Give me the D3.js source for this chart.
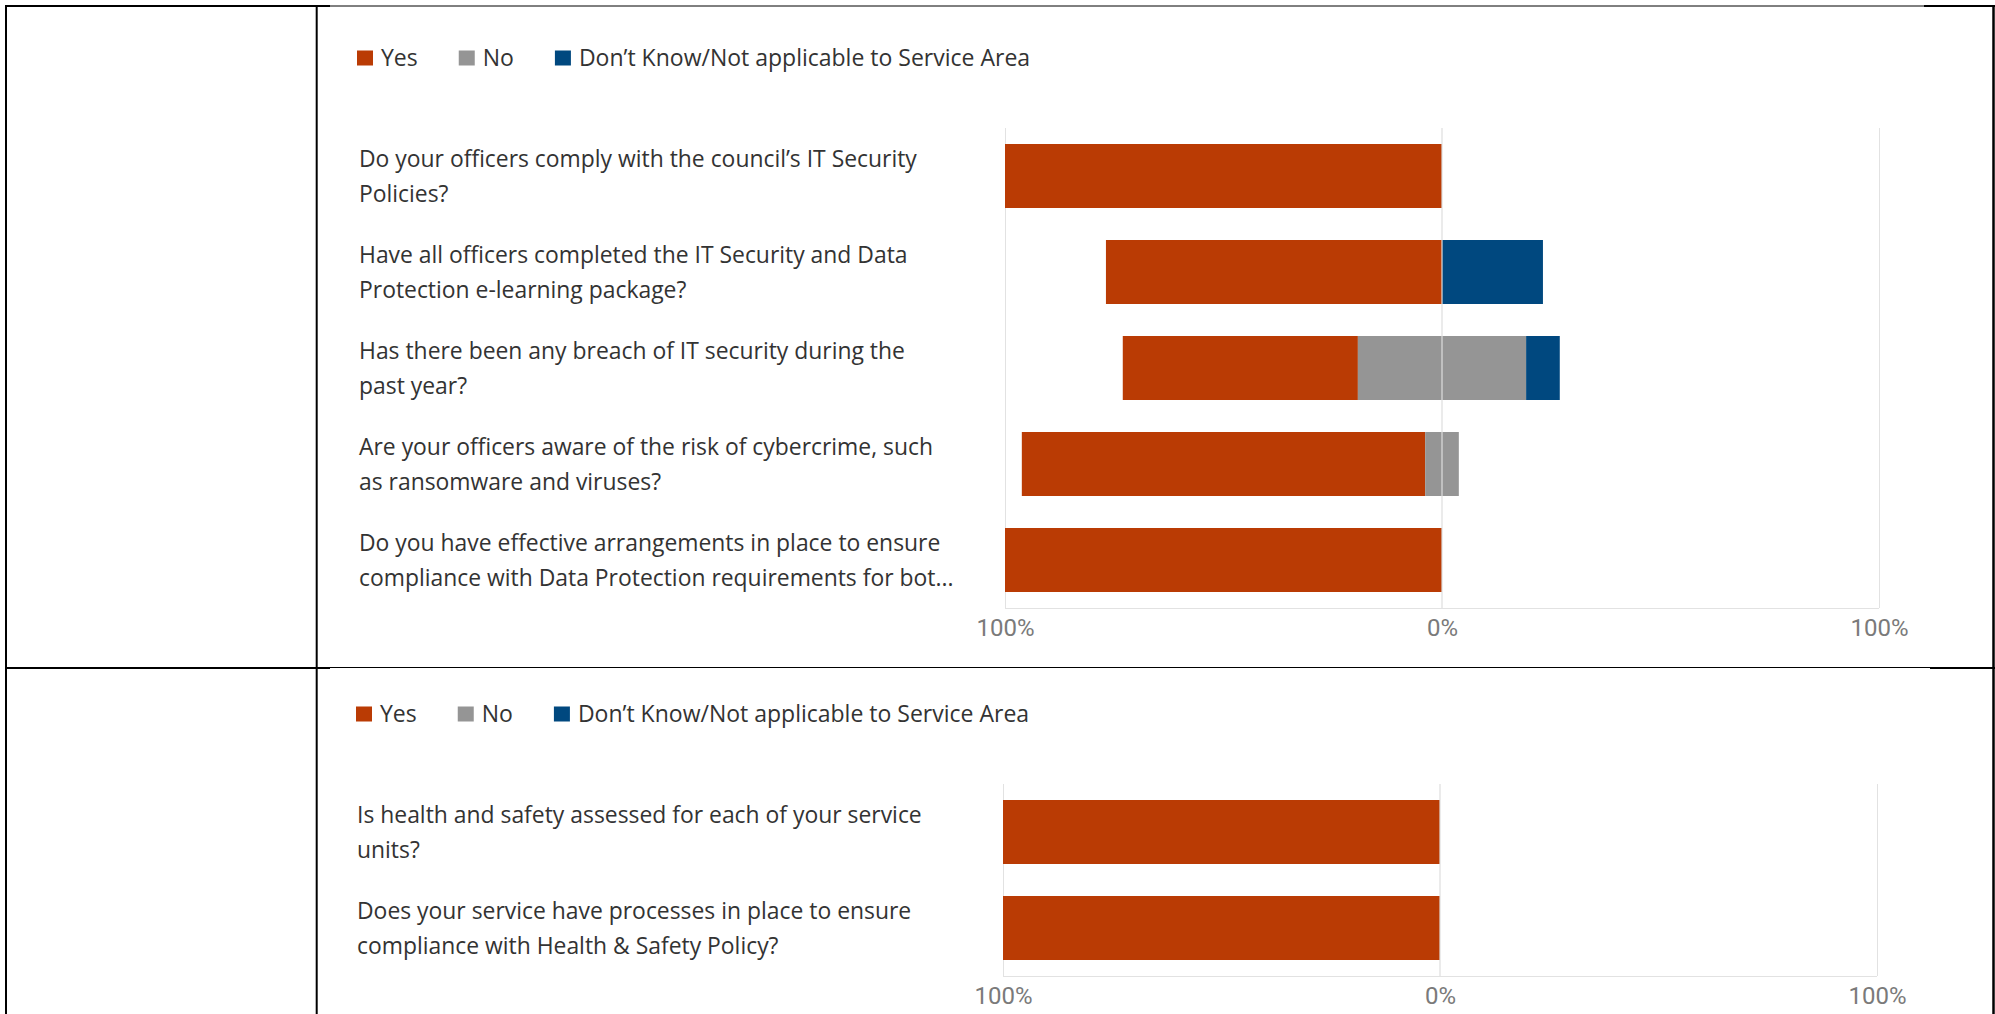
<!DOCTYPE html>
<html>
<head>
<meta charset="utf-8">
<script src="https://cdn.jsdelivr.net/npm/d3@7"></script>
<style>
  html, body { margin: 0; padding: 0; background: #fff; }
  svg { display: block; }
  .qlabel { font-family: "Open Sans", "Noto Sans", sans-serif; font-size: 22.9px; fill: #333; }
  .legend-text { font-family: "Open Sans", "Noto Sans", sans-serif; font-size: 23px; fill: #333; }
  .tick-label { font-family: Roboto, "Open Sans", sans-serif; font-size: 24px; fill: #7a7a7a; }
</style>
</head>
<body>
<svg id="page" width="1995" height="1014"></svg>
<script>
// Response categories and their colours
const responseKeys = ["Yes", "No", "Don\u2019t Know/Not applicable to Service Area"];
const responseColors = ["#BA3B04", "#959595", "#00487F"];

// IT security & data protection questions (percent of responses)
const securityQuestions = [
  "Do your officers comply with the council\u2019s IT Security\nPolicies?",
  "Have all officers completed the IT Security and Data\nProtection e-learning package?",
  "Has there been any breach of IT security during the\npast year?",
  "Are your officers aware of the risk of cybercrime, such\nas ransomware and viruses?",
  "Do you have effective arrangements in place to ensure\ncompliance with Data Protection requirements for bot..."
];
const securityYes = [100, 76.9, 53.8, 92.3, 100];
const securityNo = [0, 0, 38.5, 7.7, 0];
const securityDontKnow = [0, 23.1, 7.7, 0, 0];

// Health & safety questions (percent of responses)
const safetyQuestions = [
  "Is health and safety assessed for each of your service\nunits?",
  "Does your service have processes in place to ensure\ncompliance with Health & Safety Policy?"
];
const safetyYes = [100, 100];
const safetyNo = [0, 0];
const safetyDontKnow = [0, 0];

// Diverging axis: Yes to the left, No centred on zero, Don't Know to the right
const tickValues = [-100, 0, 100];
const tickFormat = v => Math.abs(v) + "%";

const svg = d3.select("#page");

// ---- table frame around the two panels ----
const frame = svg.append("g").attr("stroke", "#000").attr("fill", "none");
const frameLines = [
  // [x1, y1, x2, y2, width]
  [5, 6, 330, 6, 2], [330, 6, 1924, 6, 1], [1924, 6, 1995, 6, 2],
  [6, 5, 6, 1014, 2],
  [316.7, 5, 316.7, 1014, 2],
  [1993.5, 5, 1993.5, 1014, 2.5],
  [5, 668, 330, 668, 2.2], [330, 667.5, 1930, 667.5, 1], [1930, 668, 1995, 668, 2.2]
];
frameLines.forEach(([x1, y1, x2, y2, w]) => {
  frame.append("line").attr("x1", x1).attr("y1", y1).attr("x2", x2).attr("y2", y2)
    .attr("stroke-width", w);
});

function drawPanel(opts) {
  const { questions, yes, no, dk, legendY, plotTop, xLeft, xRight, labelX, legendX } = opts;
  const g = svg.append("g");
  const step = 96;
  const plotBottom = plotTop + questions.length * step;

  const x = d3.scaleLinear().domain([-100, 100]).range([xLeft, xRight]);
  const y = d3.scaleBand()
    .domain(d3.range(questions.length))
    .range([plotTop, plotBottom])
    .paddingInner(1 / 3)
    .paddingOuter(1 / 6);

  // legend
  const legend = g.append("g").attr("transform", `translate(${legendX},${legendY})`);
  let cursor = 0;
  responseKeys.forEach((k, i) => {
    const item = legend.append("g").attr("transform", `translate(${cursor},0)`);
    item.append("rect").attr("x", 0).attr("y", -7.5).attr("width", 16).attr("height", 15)
      .attr("fill", responseColors[i]);
    const t = item.append("text").attr("class", "legend-text")
      .attr("x", 24).attr("y", 0).attr("dy", "0.35em").text(k);
    cursor += 24 + t.node().getComputedTextLength() + 41;
  });

  // grid
  const grid = g.append("g").attr("stroke", "#e2e2e2").attr("stroke-width", 1);
  [-100, 100].forEach(v => {
    grid.append("line").attr("x1", Math.round(x(v)) + 0.5).attr("x2", Math.round(x(v)) + 0.5)
      .attr("y1", plotTop).attr("y2", plotBottom);
  });
  grid.append("line").attr("x1", xLeft).attr("x2", xRight)
    .attr("y1", plotBottom + 0.5).attr("y2", plotBottom + 0.5);

  // stacked diverging bars
  const rows = questions.map((q, i) => {
    const half = no[i] / 2;
    return [
      { key: 0, x0: -half - yes[i], x1: -half, i },
      { key: 1, x0: -half, x1: half, i },
      { key: 2, x0: half, x1: half + dk[i], i }
    ].filter(s => s.x1 - s.x0 > 0);
  });
  g.append("g").selectAll("rect")
    .data(rows.flat())
    .join("rect")
    .attr("x", d => x(d.x0))
    .attr("width", d => x(d.x1) - x(d.x0))
    .attr("y", d => y(d.i))
    .attr("height", y.bandwidth())
    .attr("fill", d => responseColors[d.key]);

  // zero line on top of the bars
  g.append("line").attr("stroke", "#dedede").attr("stroke-width", 1.2)
    .attr("x1", x(0)).attr("x2", x(0)).attr("y1", plotTop).attr("y2", plotBottom);

  // question labels
  questions.forEach((q, i) => {
    const lines = q.split("\n");
    const cy = y(i) + y.bandwidth() / 2;
    const t = g.append("text").attr("class", "qlabel");
    lines.forEach((ln, j) => {
      t.append("tspan").attr("x", labelX)
        .attr("y", cy + (j - (lines.length - 1) / 2) * 35)
        .attr("dy", "0.35em").text(ln);
    });
  });

  // axis tick labels
  const axis = d3.axisBottom(x).tickValues(tickValues).tickFormat(tickFormat).tickSize(0).tickPadding(0);
  const ag = g.append("g").attr("transform", `translate(0,${plotBottom})`).call(axis);
  ag.select(".domain").remove();
  ag.selectAll("text").attr("class", "tick-label").attr("fill", null)
    .attr("y", 28).attr("dy", null)
    .style("font-family", null).style("font-size", null);
  ag.attr("font-family", null).attr("font-size", null);
}

drawPanel({
  questions: securityQuestions, yes: securityYes, no: securityNo, dk: securityDontKnow,
  legendY: 58, plotTop: 128, xLeft: 1005, xRight: 1879, labelX: 359, legendX: 357
});
drawPanel({
  questions: safetyQuestions, yes: safetyYes, no: safetyNo, dk: safetyDontKnow,
  legendY: 714, plotTop: 784, xLeft: 1003, xRight: 1877, labelX: 357, legendX: 356
});
</script>
</body>
</html>
